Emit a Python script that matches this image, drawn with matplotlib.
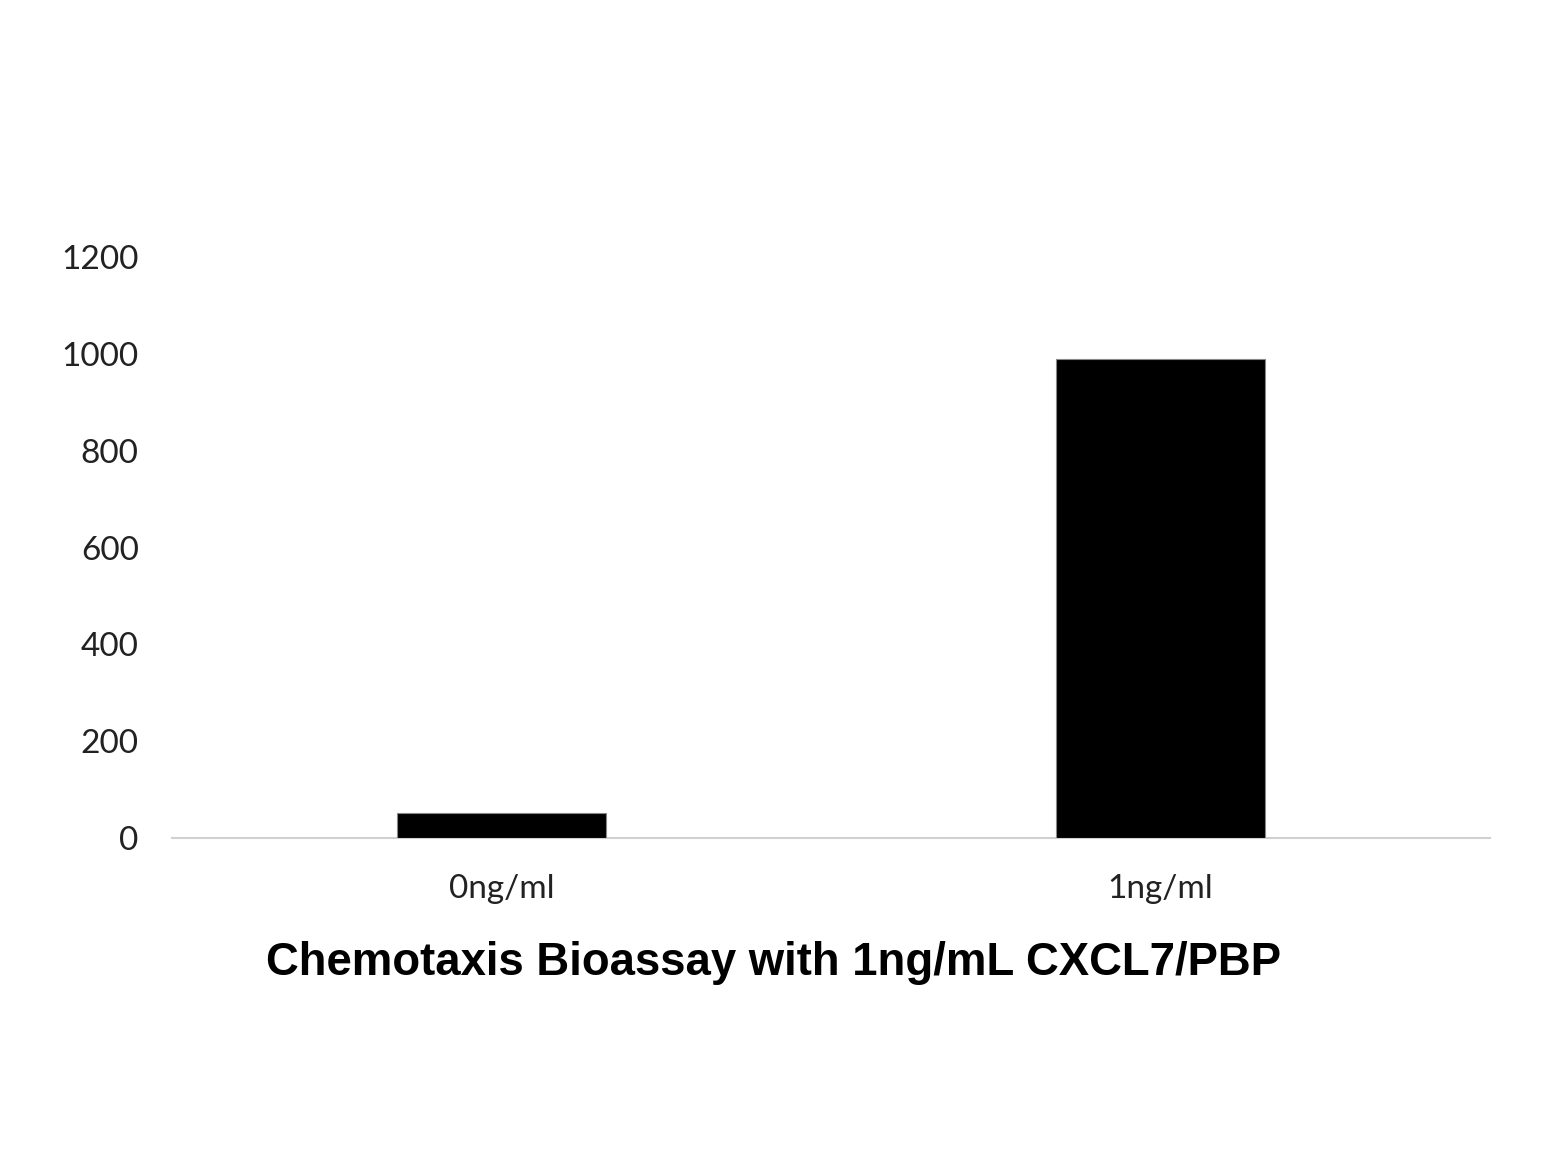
import matplotlib
matplotlib.use("Agg")
import matplotlib.pyplot as plt

categories = ["0ng/ml", "1ng/ml"]
values = [52, 990]
yticks = [0, 200, 400, 600, 800, 1000, 1200]
title = "Chemotaxis Bioassay with 1ng/mL CXCL7/PBP"

fig = plt.figure(figsize=(15.59, 11.69), dpi=100)
ax = fig.add_axes([172/1559, 1-838/1169, (1490-172)/1559, (838-257)/1169])
x = list(range(len(categories)))
ax.bar(x, values, width=0.316, color="black", edgecolor="#888888", linewidth=0.8, zorder=1)
ax.set_xlim(-0.5, len(categories) - 0.5)
ax.set_ylim(0, 1200)
ax.set_yticks(yticks)
ax.set_yticklabels([str(v) for v in yticks])
ax.set_xticks(x)
ax.set_xticklabels(categories)
for s in ["top", "right", "left"]:
    ax.spines[s].set_visible(False)
ax.spines["bottom"].set_color("#d0d0d0")
ax.spines["bottom"].set_linewidth(1.5)
ax.spines["bottom"].set_zorder(0)
ax.tick_params(axis="both", length=0, labelsize=24, colors="#222222")
ax.tick_params(axis="y", pad=24)
ax.tick_params(axis="x", pad=26)
for lab in ax.get_xticklabels() + ax.get_yticklabels():
    lab.set_fontfamily("Lato")
fig.text(773/1559, 1-975/1169, title, ha="center", va="baseline",
         fontsize=32.8, fontweight="bold", family="Liberation Sans", color="black")
fig.savefig("out.png", dpi=100, facecolor="white")
